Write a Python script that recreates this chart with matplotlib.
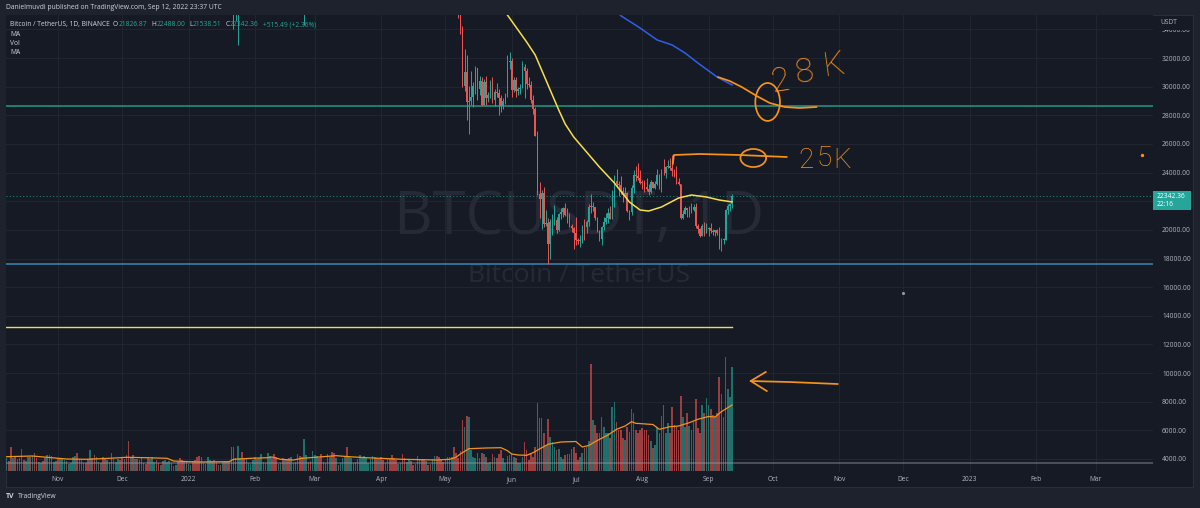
import numpy as np
import pandas as pd
import matplotlib
matplotlib.use("Agg")
import matplotlib.pyplot as plt
import matplotlib.dates as mdates
from matplotlib.patches import Ellipse, Rectangle

# ---------------- data ----------------
# daily candles BTCUSDT, 2022-05-01 .. 2022-09-12 (open = previous close)
first_open = 37630.0
close_may = [38470, 38520, 37720, 39690, 36550, 36010, 35470, 34040, 30080, 31020,
             28940, 29030, 29280, 30080, 31300, 29860, 30420, 28700, 30310, 29200,
             29430, 30280, 29100, 29650, 29540, 29200, 28630, 29030, 29470, 31730, 31800]
close_jun = [29800, 30450, 29700, 29860, 29910, 31370, 31125, 30200, 30110, 29080,
             28420, 26570, 22490, 22130, 22580, 20380, 20450, 19000, 20550, 20700,
             20720, 19990, 21110, 21230, 21500, 21030, 20730, 20280, 20100, 19790]
close_jul = [19300, 19240, 19300, 20230, 20190, 20550, 21630, 21590, 21600, 20850,
             19950, 19330, 20200, 20580, 20830, 21190, 20790, 22420, 23390, 23220,
             23150, 22680, 22450, 22580, 21310, 21250, 22950, 23840, 23770, 23640, 23300]
close_aug = [23270, 22980, 22820, 22620, 23310, 22950, 23180, 23810, 23150, 23950,
             23940, 24400, 24440, 24310, 24100, 23850, 23340, 23190, 20830, 21140,
             21520, 21400, 21530, 21370, 21600, 20240, 20040, 19550, 20290, 19800, 20050]
close_sep = [20130, 19950, 19830, 20000, 19800, 18790, 19290, 19320, 21360, 21650,
             21826.87, 22342.36]

high_may = [38680, 39170, 38650, 40020, 39850, 36650, 36130, 35500, 34240, 32660,
            32190, 30030, 31080, 30330, 31420, 31320, 30770, 30660, 30540, 30770,
            29600, 30480, 30650, 29840, 30220, 29840, 29400, 29200, 29550, 32220, 32400]
high_jun = [31980, 30680, 30690, 29950, 30180, 31760, 31560, 31330, 30690, 30390,
            29450, 28560, 26900, 23360, 22800, 22980, 21360, 20800, 20780, 21080,
            21720, 20890, 21200, 21560, 21610, 21870, 21520, 21200, 20430, 20180]
high_jul = [20880, 19420, 19650, 20350, 20730, 20660, 21840, 22530, 21950, 21600,
            20870, 20000, 20260, 20880, 21200, 21560, 21680, 22780, 23800, 24280,
            23440, 23760, 22990, 22990, 22650, 21360, 23100, 24200, 24440, 24670, 24190]
high_aug = [23500, 23460, 23650, 23230, 23470, 23350, 23400, 24250, 23930, 24230,
            24920, 24450, 24890, 25050, 25210, 24250, 24450, 23600, 23210, 21380,
            21690, 21520, 21660, 21900, 21820, 21890, 20400, 20160, 20400, 20580, 20490]
high_sep = [20200, 20450, 20060, 20000, 20060, 20180, 19460, 19450, 21480, 21800,
            21860, 22488]

low_may = [37390, 38050, 37500, 37670, 35560, 35260, 34780, 33710, 30000, 29730,
           27700, 26700, 28750, 28600, 29480, 29090, 29440, 28650, 28690, 28730,
           28950, 29230, 28850, 28650, 29300, 28020, 28200, 28450, 28800, 29300, 31210]
low_jun = [29300, 29600, 29280, 29450, 29500, 29880, 29220, 29840, 29950, 28850,
           28100, 26560, 22400, 20850, 20080, 20230, 20250, 17620, 17950, 19640,
           20350, 19770, 19890, 20730, 20900, 20960, 20500, 20200, 19850, 18630]
low_jul = [18970, 18980, 18780, 19050, 19300, 19760, 20240, 21180, 21320, 20660,
           19870, 19240, 18910, 19990, 20380, 20480, 20760, 20760, 21580, 23020,
           22340, 22500, 21950, 22260, 21250, 20700, 21040, 22600, 23410, 23500, 23220]
low_aug = [22850, 22660, 22680, 22430, 22590, 22930, 22850, 23150, 22870, 22670,
           23860, 23590, 24300, 24150, 23770, 23690, 23180, 23110, 20780, 20760,
           21100, 20900, 20890, 21150, 21310, 20110, 19800, 19520, 19550, 19540, 19800]
low_sep = [19560, 19760, 19650, 19600, 19630, 18680, 18540, 19000, 19300, 21110,
           21350, 21538.51]

# the few earlier candles whose wicks poke into the top of the pane
early_dates = ["2022-01-22", "2022-01-23", "2022-01-24", "2022-02-24"]
early_open = [36445, 35071, 36244, 37250]
early_high = [36835, 36500, 37550, 39843]
early_low = [34008, 34601, 32917, 34322]
early_close = [35071, 36244, 36660, 38328]

# daily volume from 2021-10-08 (relative units)
vol_oct = [13, 10, 24, 13, 14, 12, 13, 22, 11, 10, 14, 14, 15, 18, 13, 9, 8, 10, 13, 16,
           16, 15, 9, 10]
vol_nov = [13, 12, 12, 11, 10, 7, 8, 14, 15, 18, 12, 11, 8, 8, 12, 21, 13, 16, 14, 9,
           8, 14, 12, 11, 9, 18, 12, 9, 12, 11]
vol_dec = [14, 12, 16, 30, 13, 16, 12, 12, 11, 13, 8, 7, 14, 12, 14, 9, 11, 8, 6, 10,
           11, 9, 10, 8, 5, 6, 9, 13, 11, 9, 10]
vol_jan = [7, 6, 10, 11, 14, 15, 14, 8, 7, 14, 11, 10, 11, 9, 6, 6, 9, 10, 9, 10,
           24, 24, 13, 25, 13, 19, 12, 13, 8, 7, 11]
vol_feb = [14, 12, 13, 17, 9, 8, 18, 15, 13, 17, 14, 7, 8, 13, 12, 11, 13, 14, 8, 9,
           17, 15, 14, 32, 16, 9, 10, 20]
vol_mar = [16, 15, 13, 17, 9, 8, 17, 14, 19, 18, 13, 6, 8, 13, 14, 24, 15, 13, 8, 9,
           12, 16, 13, 15, 13, 8, 12, 15, 14, 13, 12]
vol_apr = [14, 11, 8, 13, 12, 16, 13, 11, 7, 8, 17, 13, 9, 12, 10, 6, 7, 15, 11, 11,
           12, 10, 6, 7, 12, 15, 15, 14, 12, 9]
vol_may = [12, 14, 14, 14, 24, 18, 13, 20, 51, 44, 55, 54, 21, 14, 13, 18, 13, 18, 17, 14,
           8, 9, 17, 14, 13, 17, 21, 13, 8, 15, 16]
vol_jun = [18, 14, 13, 8, 8, 14, 29, 21, 11, 17, 14, 24, 68, 53, 53, 38, 26, 52, 34, 29,
           24, 21, 22, 14, 12, 16, 17, 17, 22, 24]
vol_jul = [18, 11, 14, 18, 23, 24, 30, 107, 51, 46, 38, 38, 54, 44, 38, 38, 33, 64, 69, 49,
           41, 41, 33, 31, 44, 39, 62, 58, 41, 38, 41]
vol_aug = [43, 41, 41, 36, 30, 23, 26, 44, 38, 55, 66, 38, 48, 38, 64, 46, 44, 41, 75, 54,
           44, 58, 45, 41, 49, 72, 43, 38, 66, 58, 73]
vol_sep = [66, 62, 56, 54, 58, 94, 77, 54, 114, 82, 74, 104]
# up/down colour of the volume bars before May (u = green, d = red)
vol_dir_before_may = ("uddud uuudu ududd uuddu ddudd uuudu uuudd udddu ddudu ddudd "
                      "uuudd uddud uduud dduuu ddudu uuduu dddud uuddd ddudu uuddu "
                      "dudud dduuu dduuu uuduu uduud dduud uddud ddddu udduu uddud "
                      "duddu duuud uudud uuuuu uuddu dduud ddduu dduud dduud duddu "
                      "udddd").replace(" ", "")

# 20-day volume average (orange line), sampled
vma_dates = ["2021-10-08", "2021-10-20", "2021-10-29", "2021-11-05", "2021-11-14",
             "2021-11-25", "2021-12-03", "2021-12-12", "2021-12-22", "2021-12-25",
             "2022-01-01", "2022-01-06", "2022-01-20", "2022-01-22", "2022-01-30",
             "2022-02-07", "2022-02-09", "2022-02-13", "2022-02-19", "2022-02-23",
             "2022-03-03", "2022-03-11", "2022-03-17", "2022-03-25", "2022-04-11",
             "2022-04-27", "2022-05-03", "2022-05-06", "2022-05-08", "2022-05-12",
             "2022-05-20", "2022-05-27", "2022-05-30", "2022-06-01", "2022-06-04",
             "2022-06-08", "2022-06-11", "2022-06-14", "2022-06-18", "2022-06-24",
             "2022-07-01", "2022-07-04", "2022-07-07", "2022-07-10", "2022-07-13",
             "2022-07-16", "2022-07-20", "2022-07-24", "2022-07-27", "2022-07-29",
             "2022-08-06", "2022-08-09", "2022-08-14", "2022-08-18", "2022-08-23",
             "2022-08-27", "2022-09-01", "2022-09-04", "2022-09-07", "2022-09-12"]
vma_vals = [14.3, 15, 13.3, 12, 11.7, 12.7, 13.7, 13.3, 12.7, 10,
            9.3, 9, 9.3, 11.7, 12.7, 13.3, 14, 11.7, 11, 12.7,
            14, 15.3, 14.3, 13.3, 11.7, 11, 11.7, 13.7, 17, 22.3,
            23, 23.3, 20.3, 17, 16, 15.7, 18.3, 22, 26.7, 29,
            29.5, 24, 25.5, 29.3, 32.7, 36, 41.7, 45, 49.3, 47.7,
            46.5, 41.7, 44.3, 45, 48.3, 51.7, 54.5, 54, 59.3, 66]

# moving averages on price (yellow, blue), sampled
ma_yel_dates = ["2022-05-26", "2022-05-30", "2022-06-03", "2022-06-08", "2022-06-12",
                "2022-06-16", "2022-06-20", "2022-06-23", "2022-06-26", "2022-06-30",
                "2022-07-04", "2022-07-08", "2022-07-12", "2022-07-19", "2022-07-26",
                "2022-07-31", "2022-08-04", "2022-08-10", "2022-08-18", "2022-08-24",
                "2022-08-31", "2022-09-06", "2022-09-12"]
ma_yel_vals = [35800, 35003, 34165, 33117, 32210, 30813, 29416, 28369, 27391, 26484,
               25785, 25087, 24389, 23272, 21945, 21386, 21316, 21596, 22225, 22434,
               22294, 22085, 21950]
ma_blu_dates = ["2022-07-20", "2022-07-22", "2022-07-31", "2022-08-08", "2022-08-15",
                "2022-08-21", "2022-08-27", "2022-09-05", "2022-09-12"]
ma_blu_vals = [35300, 34954, 34095, 33257, 32908, 32349, 31651, 30673, 30115]

# horizontal lines drawn on the chart
line_res = 28640
line_sup = 17650
line_yel = 13190
line_gray = 3720
last_price = 22342.36

# hand drawn notes: x = days after the last candle, y = price
n28_dx = [-6.7, -1.1, 4.5, 11.5, 17.6, 24.6, 31.6, 39.5]
n28_y = [30673, 30394, 29975, 29347, 28858, 28578, 28509, 28578]
n25_dx = [-27.7, -27.2, -15.1, 3.6, 25.6]
n25_y = [24598, 25227, 25297, 25227, 25087]
arrow_dx = [8.7, 27.0, 49.3]
arrow_y = [9445, 9375, 9236]
barb_dx = [15.7, 8.7, 16.2]
barb_y = [10074, 9445, 8747]

month_labels = ["Nov", "Dec", "2022", "Feb", "Mar", "Apr", "May", "Jun", "Jul",
                "Aug", "Sep", "Oct", "Nov", "Dec", "2023", "Feb", "Mar"]

# ---------------- style ----------------
W, H = 1200, 508
BG = "#161a25"
FRAME = "#1e222d"
GRID = "#21252f"
TXT = "#b2b5be"
UP = "#26a69a"
DN = "#ef5350"
ORANGE = "#f7931a"
FS = 4.8
plt.rcParams["font.family"] = ["Open Sans", "DejaVu Sans"]


def box(x0, y0, x1, y1):
    return [x0 / W, 1 - y1 / H, (x1 - x0) / W, (y1 - y0) / H]


fig = plt.figure(figsize=(12, 5.08), dpi=100)
fig.patch.set_facecolor(FRAME)
fig.add_artist(Rectangle((6 / W, 1 - 487 / H), 1187 / W, 472 / H, transform=fig.transFigure,
                         facecolor=BG, edgecolor="#2a2e39", lw=0.8, zorder=-1))

ax = fig.add_axes(box(6, 15, 1153, 472))
ax.set_facecolor(BG)
axv = ax.twinx()
ax.yaxis.tick_right()
for a in (ax, axv):
    for s in a.spines.values():
        s.set_visible(False)

# candles
close = np.array(close_may + close_jun + close_jul + close_aug + close_sep, float)
high = np.array(high_may + high_jun + high_jul + high_aug + high_sep, float)
low = np.array(low_may + low_jun + low_jul + low_aug + low_sep, float)
opn = np.concatenate([[first_open], close[:-1]])
opn[-1] = 21826.87
dates = pd.date_range("2022-05-01", periods=len(close), freq="D")
xd = mdates.date2num(dates)

ex = mdates.date2num(pd.to_datetime(early_dates))
allx = np.concatenate([ex, xd])
allo = np.concatenate([early_open, opn])
allc = np.concatenate([early_close, close])
allh = np.concatenate([early_high, high])
alll = np.concatenate([early_low, low])
up = allc >= allo
cols = np.where(up, UP, DN)
ax.vlines(allx, alll, allh, colors=cols, lw=0.7, zorder=3)
ax.bar(allx, np.maximum(np.abs(allc - allo), 60), bottom=np.minimum(allo, allc),
       width=0.7, color=cols, linewidth=0, zorder=3)

# axis scales: Nov 1 2021 sits at x=58 px, 2.14 px per day
x_nov1 = mdates.date2num(pd.Timestamp("2021-11-01"))
ppd = 2.14
ax.set_xlim(x_nov1 - (58 - 6) / ppd, x_nov1 + (1153 - 58) / ppd)
ax.set_ylim(3092, 35003)

# grid + ticks (22000 label sits under the last price tag)
months = pd.date_range("2021-11-01", periods=len(month_labels), freq="MS")
ax.set_xticks(mdates.date2num(months))
ax.set_xticklabels(month_labels)
yt = np.arange(4000, 34001, 2000)
ax.set_yticks(yt)
ax.set_yticklabels(["" if v == 22000 else f"{v:.2f}" for v in yt])
ax.tick_params(axis="both", length=0, colors=TXT, labelsize=FS)
ax.tick_params(axis="y", pad=6.5)
ax.tick_params(axis="x", pad=3.2)
ax.grid(True, color=GRID, lw=0.8)
ax.set_axisbelow(True)

# watermark
ax.text(0.5, 0.556, "BTCUSDT, 1D", transform=ax.transAxes, ha="center", va="center",
        fontsize=43, color="#262a36", zorder=0.6)
ax.text(0.5, 0.429, "Bitcoin / TetherUS", transform=ax.transAxes, ha="center", va="center",
        fontsize=19, color="#262a36", zorder=0.6)

# moving averages
ax.plot(mdates.date2num(pd.to_datetime(ma_yel_dates)), ma_yel_vals, color="#f5e04a", lw=1.1,
        zorder=4, solid_joinstyle="round")
ax.plot(mdates.date2num(pd.to_datetime(ma_blu_dates)), ma_blu_vals, color="#2f5fe8", lw=1.1,
        zorder=4, solid_joinstyle="round")

# horizontal lines
ax.axhline(line_res, color="#1f9a86", lw=1.1, zorder=2)
ax.axhline(line_sup, color="#3a86b8", lw=1.1, zorder=2)
ax.axhline(last_price, color=UP, lw=0.8, ls=(0, (1, 2)), alpha=0.7, zorder=2)
ax.plot([ax.get_xlim()[0], xd[-1]], [line_yel, line_yel], color="#e9d968", lw=1, zorder=2)

# volume overlay
volume = np.array(vol_oct + vol_nov + vol_dec + vol_jan + vol_feb + vol_mar + vol_apr
                  + vol_may + vol_jun + vol_jul + vol_aug + vol_sep, float)
vdates = mdates.date2num(pd.date_range("2021-10-08", periods=len(volume), freq="D"))
vup = [ch == "u" for ch in vol_dir_before_may] + list(close >= opn)
vcols = [UP if u else DN for u in vup]
axv.bar(vdates, volume, width=0.75, color=vcols, alpha=0.62, linewidth=0, zorder=2)
axv.plot(mdates.date2num(pd.to_datetime(vma_dates)), vma_vals, color="#f39418", lw=0.9, zorder=3)
axv.set_ylim(-volume.max() * 4 / 456, volume.max() * 4)
axv.set_yticks([])
axv.plot(ax.get_xlim(), [line_gray, line_gray], transform=ax.transData,
         color="#9598a1", lw=1.2, alpha=0.5, zorder=4)

# hand drawn notes
x_last = xd[-1]
LW = 1.25
axv.plot(x_last + np.array(n28_dx), n28_y, color=ORANGE, lw=LW, transform=ax.transData,
         solid_capstyle="round", zorder=5)
ax.add_patch(Ellipse((x_last + 16.6, 28930), 11.5, 2650, fill=False, ec=ORANGE, lw=LW, zorder=5))
ax.plot(x_last + np.array(n25_dx), n25_y, color=ORANGE, lw=LW, zorder=5, solid_capstyle="round")
ax.add_patch(Ellipse((x_last + 9.9, 25017), 12, 1260, fill=False, ec=ORANGE, lw=LW, zorder=5))
for ch, dx, py, rot in zip("28K", [22.5, 33.5, 47.5], [30364, 30953, 31441], [8, 8, 8]):
    ax.text(x_last + dx, py, ch, color=ORANGE, fontsize=24, ha="center", va="center",
            rotation=rot, family=["Roboto", "DejaVu Sans"], fontweight="light", zorder=5)
for ch, dx, py in zip("25K", [34.5, 43.0, 51.5], [24877, 25017, 24877]):
    ax.text(x_last + dx, py, ch, color=ORANGE, fontsize=20, ha="center", va="center",
            family=["Roboto", "DejaVu Sans"], fontweight="light", zorder=5)
axv.plot(x_last + np.array(arrow_dx), arrow_y, color=ORANGE, lw=LW, transform=ax.transData, zorder=5)
axv.plot(x_last + np.array(barb_dx), barb_y, color=ORANGE, lw=LW, transform=ax.transData, zorder=5)
ax.scatter([x_last + 191.4], [25227], s=2, color=ORANGE, zorder=5)
ax.scatter([x_last + 79.7], [15590], s=1.5, color="#9598a1", zorder=5)

# price axis extras: USDT header and last price tag
fig.add_artist(Rectangle((1154 / W, 1 - 29.5 / H), 38 / W, 14 / H, transform=fig.transFigure,
                         facecolor=BG, lw=0, zorder=5))
fig.text(1160 / W, 1 - 23 / H, "USDT", color=TXT, fontsize=FS, va="center", zorder=6)
fig.add_artist(Rectangle((1153 / W, 1 - 210 / H), 38 / W, 19 / H, transform=fig.transFigure,
                         facecolor=UP, lw=0, zorder=5))
fig.text(1157 / W, 1 - 196.5 / H, f"{last_price:.2f}", color="white", fontsize=FS, va="center", zorder=6)
fig.text(1157 / W, 1 - 205 / H, "22:16", color="white", fontsize=FS, va="center", zorder=6)

# header + legend
fig.text(6 / W, 1 - 7.5 / H, "Danielmuvdi published on TradingView.com, Sep 12, 2022 23:37 UTC",
         color="#d1d4dc", fontsize=4.85, va="center")
pieces = [("O", "#d1d4dc", 2.4), ("21826.87", UP, 0.3), ("H", "#d1d4dc", 2.8),
          ("22488.00", UP, 0.3), ("L", "#d1d4dc", 2.8), ("21538.51", UP, 0.3),
          ("C", "#d1d4dc", 2.8), ("22342.36", UP, 0.3), ("+515.49 (+2.36%)", UP, 2.8)]
prev = fig.text(10 / W, 1 - 24.5 / H, "Bitcoin / TetherUS, 1D, BINANCE", color="#d1d4dc",
                fontsize=FS, va="center", zorder=7)
for txt, c, gap in pieces:
    prev = ax.annotate(txt, xy=(1, 0.5), xycoords=prev, xytext=(gap, 0),
                       textcoords="offset points", color=c, fontsize=FS, va="center",
                       annotation_clip=False, zorder=7)
for i, lab in enumerate(["MA", "Vol", "MA"]):
    fig.text(10 / W, 1 - (34 + 9.5 * i) / H, lab, color="#d1d4dc", fontsize=FS, va="center")

# footer logo
fig.text(6 / W, 1 - 497 / H, "TV", color="#d1d4dc", fontsize=5, fontweight="bold", va="center")
fig.text(18 / W, 1 - 497 / H, "TradingView", color="#d1d4dc", fontsize=4.9, va="center")

fig.savefig("out.png", dpi=100, facecolor=fig.get_facecolor())
